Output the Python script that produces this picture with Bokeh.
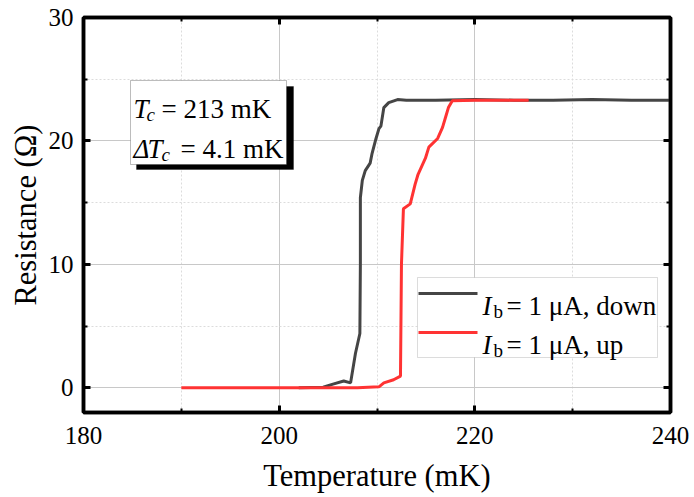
from bokeh.plotting import figure
from bokeh.models import (Range1d, SingleIntervalTicker, LinearAxis, BoxAnnotation,
                          Label, CustomJSTickFormatter)
from bokeh.embed import file_html
from bokeh.resources import INLINE

# ---- data ----
down_T = [240.0, 236.0, 232.0, 228.0, 224.0, 220.0, 216.0, 213.0, 212.1, 211.2, 210.7,
          210.4, 210.2, 209.9, 209.5, 209.3, 208.8, 208.5, 208.3, 208.3, 208.25, 207.8,
          207.3, 206.6, 205.5, 204.5, 202.0]
down_R = [23.3, 23.3, 23.35, 23.3, 23.3, 23.35, 23.3, 23.3, 23.35, 23.1, 22.7,
          21.2, 21.0, 20.2, 19.0, 18.2, 17.6, 16.8, 15.4, 10.0, 4.4, 2.8,
          0.4, 0.55, 0.3, 0.05, 0.0]

up_T = [190.0, 195.0, 200.0, 205.0, 208.0, 210.2, 210.7, 211.7, 212.4, 212.5, 212.7,
        213.4, 213.9, 214.2, 214.95, 215.3, 216.2, 216.7, 217.0, 217.3, 217.7, 220.0,
        223.0, 225.5]
up_R = [0.0, 0.0, 0.0, 0.0, 0.0, 0.08, 0.4, 0.65, 0.95, 10.0, 14.5,
        14.9, 16.5, 17.3, 18.6, 19.5, 20.2, 21.1, 21.9, 22.7, 23.25, 23.3,
        23.3, 23.3]

x_ticks_interval = 20
y_ticks_interval = 10
down_label = "= 1 μA, down"
up_label = "= 1 μA, up"
tc_text = "= 213 mK"
dtc_text = "= 4.1 mK"

FONT = "Liberation Serif"
GRAY = "#454545"
RED = "#ff3333"

# pixel -> data helpers (frame: x 83..670 for 180..240, y 17..412 for 30..-2)
def px2x(px):
    return 180 + (px - 83) * 60.0 / 587.0

def py2y(py):
    return 30 - (py - 17) * 32.0 / 395.0

p = figure(frame_width=587, frame_height=395, output_backend="svg", toolbar_location=None,
           x_range=Range1d(180, 240), y_range=Range1d(-2, 30),
           min_border_left=83, min_border_top=17, min_border_right=24, min_border_bottom=85)
p.background_fill_color = "white"
p.border_fill_color = "white"
p.outline_line_color = "black"
p.outline_line_width = 3.5

xt = SingleIntervalTicker(interval=x_ticks_interval, num_minor_ticks=2)
yt = SingleIntervalTicker(interval=y_ticks_interval, num_minor_ticks=2)
p.xaxis.ticker = xt
p.yaxis.ticker = yt
p.xgrid.ticker = xt
p.ygrid.ticker = yt

for g in (p.xgrid, p.ygrid):
    g.grid_line_color = "#c8c8c8"
    g.grid_line_width = 1
    g.minor_grid_line_color = "#dcdcdc"
    g.minor_grid_line_width = 1
    g.minor_grid_line_dash = "2 2"

def style_axis(ax):
    ax.axis_line_width = 3.5
    ax.axis_line_color = "black"
    ax.major_tick_in = 7
    ax.major_tick_out = 0
    ax.major_tick_line_width = 3
    ax.minor_tick_in = 4
    ax.minor_tick_out = 0
    ax.minor_tick_line_width = 2
    ax.major_label_text_font = FONT
    ax.major_label_text_font_size = "25px"
    ax.major_label_text_color = "black"
    ax.axis_label_text_font = FONT
    ax.axis_label_text_font_size = "30.5px"
    ax.axis_label_text_font_style = "normal"
    ax.axis_label_text_color = "black"

style_axis(p.xaxis[0])
style_axis(p.yaxis[0])
p.xaxis.axis_label = "Temperature (mK)"
p.yaxis.axis_label = "Resistance (Ω)"
p.xaxis.major_label_standoff = 14
p.yaxis.major_label_standoff = 10
p.xaxis.axis_label_standoff = 12
p.yaxis.axis_label_standoff = 3

blank = CustomJSTickFormatter(code="return ''")
top = LinearAxis(ticker=xt, formatter=blank)
right = LinearAxis(ticker=yt, formatter=blank)
for ax in (top, right):
    style_axis(ax)
    ax.major_label_text_font_size = "0px"
    ax.major_label_standoff = 0
p.add_layout(top, "above")
p.add_layout(right, "right")

p.line(down_T, down_R, line_color=GRAY, line_width=3)
p.line(up_T, up_R, line_color=RED, line_width=3)

# ---- annotation box with shadow ----
p.add_layout(BoxAnnotation(left=px2x(136), right=px2x(293), top=py2y(86), bottom=py2y(169),
                           fill_color="black", fill_alpha=1, line_color="black", line_width=1))
p.add_layout(BoxAnnotation(left=px2x(130), right=px2x(286), top=py2y(80), bottom=py2y(164),
                           fill_color="white", fill_alpha=1, line_color="#222222", line_width=1))

def lab(px, py, text, size="27px", style="normal"):
    p.add_layout(Label(x=px2x(px), y=py2y(py), text=text, text_font=FONT,
                       text_font_size=size, text_font_style=style, text_color="black",
                       text_align="left", text_baseline="alphabetic"))

lab(133, 108, "T", style="italic")
lab(146, 114, "c", size="19px", style="italic")
lab(161, 108, tc_text)
lab(133, 148, "Δ", style="italic")
lab(147, 148, "T", style="italic")
lab(161, 154, "c", size="19px", style="italic")
lab(180, 148, dtc_text)

# ---- legend ----
p.add_layout(BoxAnnotation(left=px2x(417), right=px2x(657), top=py2y(277), bottom=py2y(357),
                           fill_color="white", fill_alpha=1, line_color="#8a8a8a", line_width=1))
p.segment(x0=[px2x(418)], y0=[py2y(293)], x1=[px2x(477)], y1=[py2y(293)],
          line_color=GRAY, line_width=3, level="overlay")
p.segment(x0=[px2x(418)], y0=[py2y(332)], x1=[px2x(477)], y1=[py2y(332)],
          line_color=RED, line_width=3, level="overlay")
lab(482, 305, "I", style="italic")
lab(493, 311, "b", size="19px")
lab(506, 305, down_label)
lab(482, 344, "I", style="italic")
lab(493, 350, "b", size="19px")
lab(506, 344, up_label)

open("out.html", "w").write(file_html(p, INLINE))
